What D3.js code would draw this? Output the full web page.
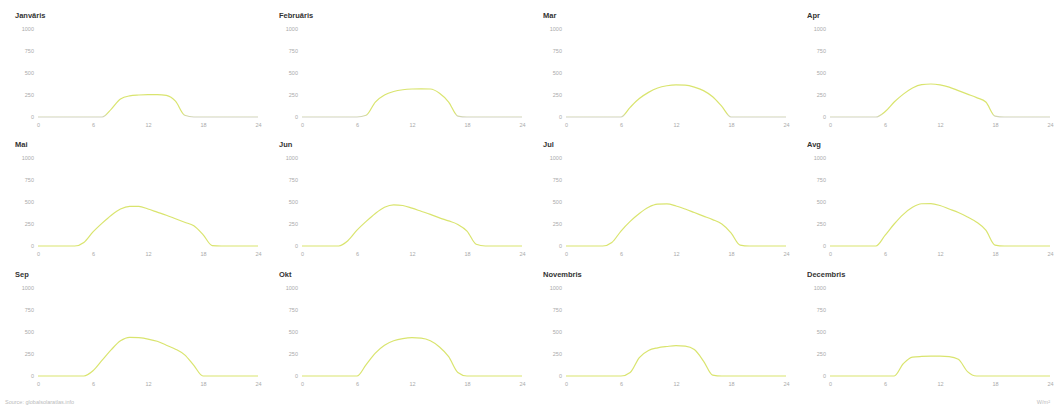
<!DOCTYPE html>
<html>
<head>
<meta charset="utf-8">
<script src="https://cdn.jsdelivr.net/npm/d3@7"></script>
<style>
  html, body { margin: 0; padding: 0; background: #fff; }
  svg { display: block; font-family: "Liberation Sans", Arial, sans-serif; }
</style>
</head>
<body>
<svg id="chart" width="1056" height="409"></svg>
<script>
// Average hourly irradiance profile (W/m²) for each month
const months = ["Janvāris", "Februāris", "Mar", "Apr", "Mai", "Jun", "Jul", "Avg", "Sep", "Okt", "Novembris", "Decembris"];
const hours = d3.range(0, 25);
const yTicks = [0, 250, 500, 750, 1000];
const xTicks = [0, 6, 12, 18, 24];

const jan = [0,0,0,0,0,0,0,0,90,205,240,250,255,255,245,180,20,0,0,0,0,0,0,0,0];
const feb = [0,0,0,0,0,0,0,20,170,250,290,310,318,320,318,270,170,10,0,0,0,0,0,0,0];
const mar = [0,0,0,0,0,0,0,110,210,280,330,355,365,362,340,300,230,120,0,0,0,0,0,0,0];
const apr = [0,0,0,0,0,0,60,170,260,330,368,375,365,340,300,260,220,170,10,0,0,0,0,0,0];
const may = [0,0,0,0,0,40,160,260,350,420,450,450,420,385,350,310,270,230,130,5,0,0,0,0,0];
const jun = [0,0,0,0,0,60,180,280,370,440,468,460,430,395,360,320,285,245,170,20,0,0,0,0,0];
const jul = [0,0,0,0,0,40,170,280,370,440,475,478,455,420,380,340,300,250,150,10,0,0,0,0,0];
const aug = [0,0,0,0,0,0,120,250,360,440,480,482,460,420,380,330,270,180,10,0,0,0,0,0,0];
const sep = [0,0,0,0,0,0,60,180,300,400,440,435,420,395,350,305,240,120,0,0,0,0,0,0,0];
const oct = [0,0,0,0,0,0,0,130,260,350,400,425,435,430,400,330,220,40,0,0,0,0,0,0,0];
const nov = [0,0,0,0,0,0,0,40,210,290,320,335,345,340,300,170,10,0,0,0,0,0,0,0,0];
const dec = [0,0,0,0,0,0,0,0,140,215,222,225,225,220,190,50,0,0,0,0,0,0,0,0,0];
const series = [jan, feb, mar, apr, may, jun, jul, aug, sep, oct, nov, dec];

const svg = d3.select("#chart");
const cols = 4, cellW = 264, rowTops = [0, 129, 259];
const plotLeft = 38, plotRight = 258, plotTop = 29, plotBottom = 117;

const defs = svg.append("defs");

series.forEach((values, i) => {
  const c = i % cols, r = Math.floor(i / cols);
  const g = svg.append("g").attr("transform", `translate(${c * cellW},${rowTops[r]})`);

  const x = d3.scaleLinear().domain([0, 24]).range([plotLeft, plotRight]);
  const y = d3.scaleLinear().domain([0, 1000]).range([plotBottom, plotTop]);

  // title
  g.append("text")
    .attr("x", 15).attr("y", 18)
    .attr("font-size", 7.5).attr("font-weight", "bold").attr("fill", "#333")
    .text(months[i]);

  // y axis labels
  const ya = g.append("g").attr("transform", `translate(${plotLeft - 4},0)`)
    .call(d3.axisLeft(y).tickValues(yTicks).tickFormat(d3.format("d")).tickSize(0).tickPadding(0));
  ya.select(".domain").remove();
  ya.selectAll("text").attr("font-size", 5.5).attr("fill", "#aaa").attr("font-family", "Liberation Sans, Arial, sans-serif");

  // x axis labels
  const xa = g.append("g").attr("transform", `translate(0,${plotBottom + 4})`)
    .call(d3.axisBottom(x).tickValues(xTicks).tickFormat(d3.format("d")).tickSize(0).tickPadding(2));
  xa.select(".domain").remove();
  xa.selectAll("text").attr("font-size", 5.5).attr("fill", "#aaa").attr("font-family", "Liberation Sans, Arial, sans-serif");

  // stroke gradient: grey along the zero line, yellow-green above it
  const gid = "grad" + i;
  const grad = defs.append("linearGradient").attr("id", gid)
    .attr("gradientUnits", "userSpaceOnUse")
    .attr("x1", 0).attr("x2", 0)
    .attr("y1", rowTops[r] + y(0) + 1).attr("y2", rowTops[r] + y(0) - 4);
  grad.append("stop").attr("offset", 0).attr("stop-color", "#cfcfcf");
  grad.append("stop").attr("offset", 1).attr("stop-color", "#d9e46e");

  const line = d3.line()
    .x((d, k) => x(hours[k]))
    .y(d => y(d))
    .curve(d3.curveMonotoneX);

  g.append("path")
    .datum(values)
    .attr("fill", "none")
    .attr("stroke", `url(#${gid})`)
    .attr("stroke-width", 1.2)
    .attr("d", line);
});

// footer
svg.append("text").attr("x", 5).attr("y", 404)
  .attr("font-size", 5.5).attr("fill", "#bbb")
  .text("Source: globalsolaratlas.info");
svg.append("text").attr("x", 1050).attr("y", 404)
  .attr("font-size", 5.5).attr("fill", "#bbb").attr("text-anchor", "end")
  .text("W/m²");
</script>
</body>
</html>
